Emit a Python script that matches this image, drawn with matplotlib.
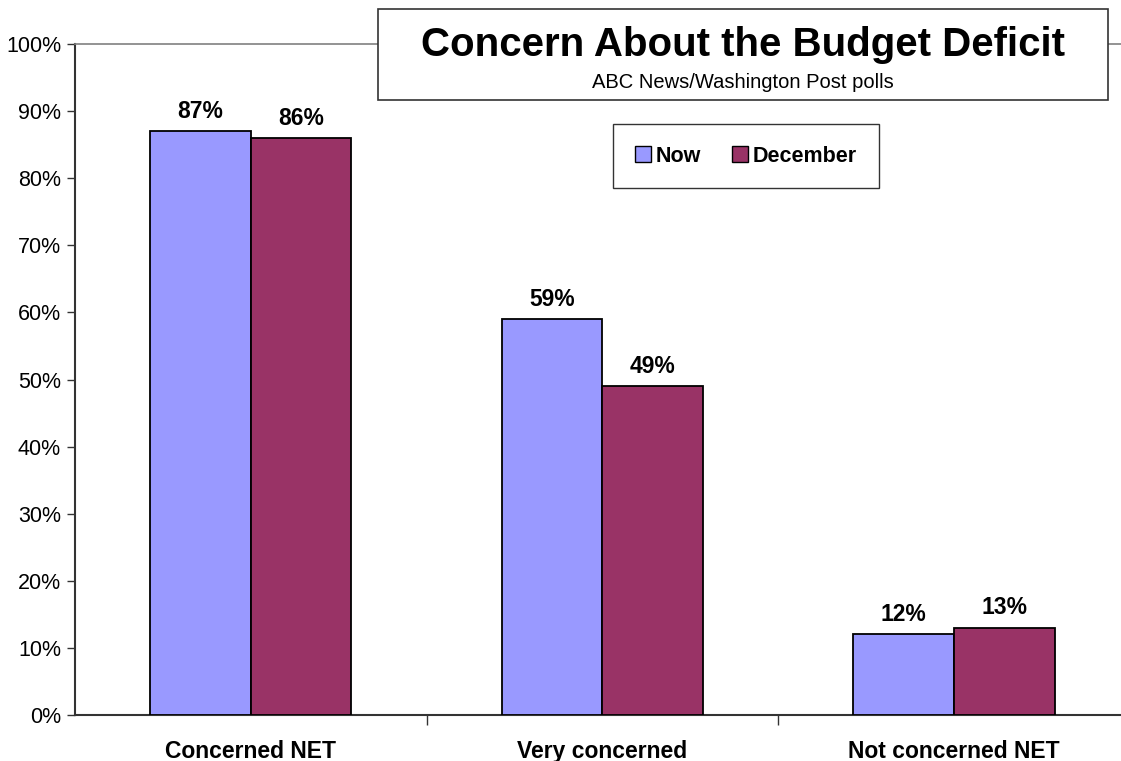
import matplotlib
matplotlib.use("Agg")
import matplotlib.pyplot as plt
from matplotlib.patches import Rectangle, Patch
from matplotlib.ticker import FixedLocator, PercentFormatter

plt.rcParams['font.family'] = ['Liberation Sans', 'DejaVu Sans']

categories = ["Concerned NET", "Very concerned", "Not concerned NET"]
series_names = ["Now", "December"]
now_values = [87, 59, 12]
december_values = [86, 49, 13]
colors = ["#9999FF", "#993366"]
title = "Concern About the Budget Deficit"
subtitle = "ABC News/Washington Post polls"

W, H = 1121, 761
fig = plt.figure(figsize=(W / 100, H / 100), dpi=100)
ax = fig.add_axes([75 / W, (H - 715) / H, (W - 75) / W, (715 - 44) / H])

bw = 0.286
xs = list(range(len(categories)))
for vals, off, col in [(now_values, -bw / 2, colors[0]), (december_values, bw / 2, colors[1])]:
    bars = ax.bar([x + off for x in xs], vals, width=bw, color=col,
                  edgecolor="black", linewidth=1.3, zorder=3)
    for b, v in zip(bars, vals):
        ax.annotate(f"{v}%", (b.get_x() + b.get_width() / 2, v),
                    xytext=(0, 6), textcoords="offset points",
                    ha="center", va="bottom", fontsize=16.5, fontweight="bold")

ax.set_xlim(-0.5, 2.475)
ax.set_ylim(0, 100)
ax.yaxis.set_major_locator(FixedLocator(range(0, 101, 10)))
ax.yaxis.set_major_formatter(PercentFormatter(decimals=0))
ax.tick_params(axis="y", labelsize=15.5, length=6, width=1, color="#333333", pad=4)

ax.set_xticks([0.5, 1.5])
ax.set_xticklabels([])
ax.set_xticks(xs, minor=True)
ax.set_xticklabels(categories, minor=True, fontsize=16.5, fontweight="bold")
ax.tick_params(axis="x", which="major", length=7, width=1, color="#333333", direction="out")
ax.tick_params(axis="x", which="minor", length=0, pad=18)

for s in ["left", "bottom"]:
    ax.spines[s].set_color("#333333")
    ax.spines[s].set_linewidth(1.5)
ax.spines["top"].set_color("#808080")
ax.spines["top"].set_linewidth(1.2)
ax.spines["right"].set_visible(False)

# Title box
fig.patches.append(Rectangle((378 / W, (H - 100) / H), (1108 - 378) / W, 91 / H,
                             transform=fig.transFigure, facecolor="white",
                             edgecolor="#333333", linewidth=1.2, zorder=5))
fig.text(743 / W, (H - 45) / H, title, ha="center", va="center",
         fontsize=29, fontweight="bold", zorder=6)
fig.text(743 / W, (H - 82) / H, subtitle, ha="center", va="center",
         fontsize=14.5, zorder=6)

handles = [Patch(facecolor=c, edgecolor="black", linewidth=1) for c in colors]
leg = ax.legend(handles, series_names, loc="upper left",
                bbox_to_anchor=((613 - 75) / (W - 75), (715 - 124) / (715 - 44)),
                ncol=2, frameon=True, fancybox=False, prop={"size": 15.5, "weight": "bold"},
                handlelength=0.75, handleheight=0.75, handletextpad=0.25,
                columnspacing=1.4, borderpad=1.0, borderaxespad=0)
leg.get_frame().set_edgecolor("black")
leg.get_frame().set_linewidth(1.0)

fig.savefig("out.png", dpi=100)
